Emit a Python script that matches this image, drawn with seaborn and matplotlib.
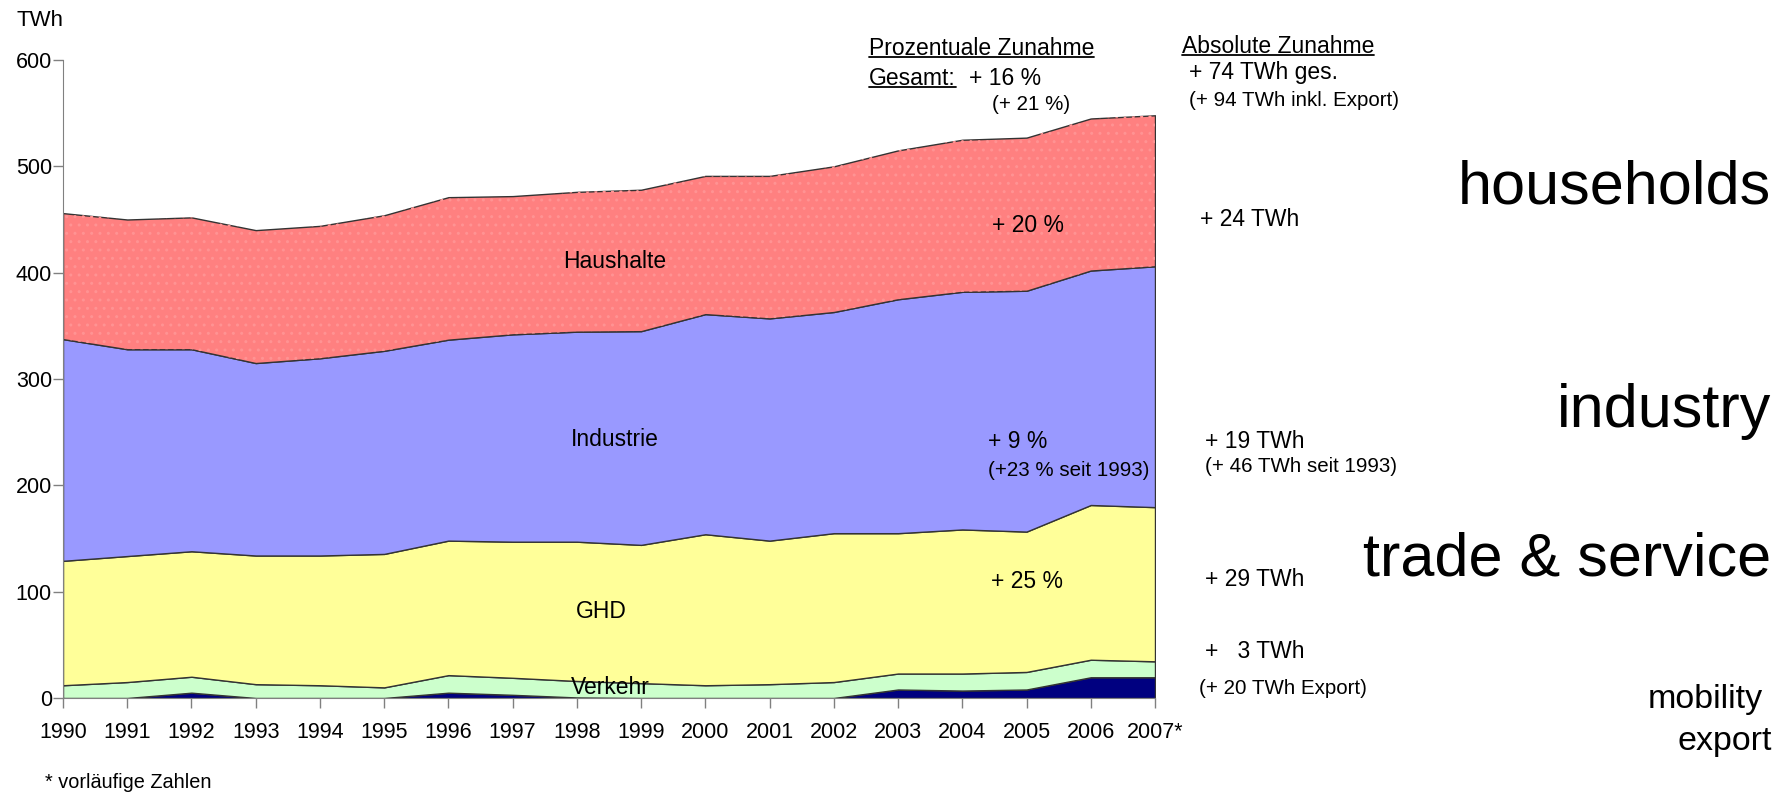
import numpy as np
import pandas as pd
import matplotlib
matplotlib.use("Agg")
import matplotlib.pyplot as plt
import seaborn as sns
from matplotlib.lines import Line2D

# Stromverbrauch nach Sektoren, TWh
years = list(range(1990, 2008))
year_labels = [str(y) for y in years[:-1]] + ["2007*"]

export = [0, 0, 5, 0, 0, 0, 5, 3, 0.5, 0, 0, 0, 0, 8, 7, 8, 19.5, 19.5]
verkehr = [12, 15, 15, 13, 12, 10, 16.5, 16, 15.5, 14, 12, 13, 15, 15, 16, 16.5, 16.5, 15]
ghd = [117, 118.5, 118, 121, 122, 125.5, 126.5, 128, 131, 130, 142, 135, 140, 132, 135.5, 132, 145.5, 145]
industrie = [208.5, 194.5, 190, 181, 185.5, 191, 189, 195, 197.5, 201, 207, 209, 208, 220, 223.5, 226.5, 220.5, 226.5]
haushalte = [118.5, 122, 124, 125, 124.5, 127.5, 134, 130, 131.5, 133, 130, 134, 137, 140, 143, 144, 143, 142]

df = pd.DataFrame({"Export": export, "Verkehr": verkehr, "GHD": ghd,
                   "Industrie": industrie, "Haushalte": haushalte}, index=years)
cum = df.cumsum(axis=1)

sns.set_style("ticks")
plt.rcParams['font.family'] = ['Liberation Sans', 'DejaVu Sans']
plt.rcParams['text.color'] = 'black'
plt.rcParams['hatch.linewidth'] = 1.0

W, H = 1784, 794
fig = plt.figure(figsize=(W / 100, H / 100), dpi=100, facecolor='white')


def fx(x):
    return x / W


def fy(y):
    return 1 - y / H


ax = fig.add_axes([fx(63), fy(698), fx(1155) - fx(63), fy(60) - fy(698)])
colors = ['#000080', '#ccffcc', '#ffff99', '#9999ff', '#ff8080']
ax.stackplot(df.index, df.T.values, colors=colors, edgecolor='#333333', linewidth=1)
# faint dot pattern on the households area
ax.fill_between(df.index, cum["Industrie"], cum["Haushalte"], facecolor='none',
                edgecolor='#ff9393', hatch='..', linewidth=0)

ax.set_xlim(1990, 2007)
ax.set_ylim(0, 600)
ax.set_xticks(years)
ax.set_xticklabels(year_labels)
ax.set_yticks(range(0, 601, 100))
ax.tick_params(axis='both', labelsize=15.5, labelcolor='black', color='#808080',
               direction='out', length=7, width=1)
ax.tick_params(axis='x', pad=10)
ax.tick_params(axis='y', pad=1)
for s in ['top', 'right']:
    ax.spines[s].set_visible(False)
for s in ['left', 'bottom']:
    ax.spines[s].set_color('#808080')

# labels inside the areas
fig.text(fx(615), fy(262), "Haushalte", ha='center', va='center', fontsize=16.5)
fig.text(fx(615), fy(439), "Industrie", ha='center', va='center', fontsize=16.5)
fig.text(fx(601), fy(612), "GHD", ha='center', va='center', fontsize=16.5)
fig.text(fx(610), fy(687), "Verkehr", ha='center', va='center', fontsize=16.5)

fig.text(fx(992), fy(225), "+ 20 %", ha='left', va='center', fontsize=16.5)
fig.text(fx(988), fy(442), "+ 9 %", ha='left', va='center', fontsize=16.5)
fig.text(fx(988), fy(470), "(+23 % seit 1993)", ha='left', va='center', fontsize=14.8)
fig.text(fx(991), fy(582), "+ 25 %", ha='left', va='center', fontsize=16.5)

# header annotations
t1 = fig.text(fx(869), fy(55), "Prozentuale Zunahme", ha='left', va='baseline', fontsize=16.5)
t2 = fig.text(fx(869), fy(85), "Gesamt:", ha='left', va='baseline', fontsize=16.5)
fig.text(fx(969), fy(85), "+ 16 %", ha='left', va='baseline', fontsize=16.5)
fig.text(fx(992), fy(105), "(+ 21 %)", ha='left', va='center', fontsize=14.8)
t3 = fig.text(fx(1182), fy(53), "Absolute Zunahme", ha='left', va='baseline', fontsize=16.5)
fig.text(fx(1189), fy(72), "+ 74 TWh ges.", ha='left', va='center', fontsize=16.5)
fig.text(fx(1189), fy(100), "(+ 94 TWh inkl. Export)", ha='left', va='center', fontsize=14.8)

# absolute increases per sector
fig.text(fx(1200), fy(219), "+ 24 TWh", ha='left', va='center', fontsize=16.5)
fig.text(fx(1205), fy(442), "+ 19 TWh", ha='left', va='center', fontsize=16.5)
fig.text(fx(1205), fy(467), "(+ 46 TWh seit 1993)", ha='left', va='center', fontsize=14.8)
fig.text(fx(1205), fy(580), "+ 29 TWh", ha='left', va='center', fontsize=16.5)
fig.text(fx(1205), fy(652), "+   3 TWh", ha='left', va='center', fontsize=16.5)
fig.text(fx(1199), fy(688), "(+ 20 TWh Export)", ha='left', va='center', fontsize=14.8)

# english sector names
fig.text(fx(1771), fy(203), "households", ha='right', va='baseline', fontsize=44)
fig.text(fx(1771), fy(427), "industry", ha='right', va='baseline', fontsize=44)
fig.text(fx(1771), fy(575), "trade & service", ha='right', va='baseline', fontsize=44)
fig.text(fx(1763), fy(708), "mobility", ha='right', va='baseline', fontsize=24.5)
fig.text(fx(1772), fy(750), "export", ha='right', va='baseline', fontsize=24.5)

fig.text(fx(40), fy(20), "TWh", ha='center', va='center', fontsize=16)
fig.text(fx(45), fy(783), "* vorläufige Zahlen", ha='left', va='center', fontsize=14.3)

# underlines
fig.canvas.draw()
renderer = fig.canvas.get_renderer()
for t, base in [(t1, 57), (t2, 87), (t3, 55)]:
    bb = t.get_window_extent(renderer)
    fig.add_artist(Line2D([bb.x0 / W, bb.x1 / W], [fy(base), fy(base)],
                          transform=fig.transFigure, color='black', linewidth=1.3))

fig.savefig("out.png", dpi=100, facecolor='white')
